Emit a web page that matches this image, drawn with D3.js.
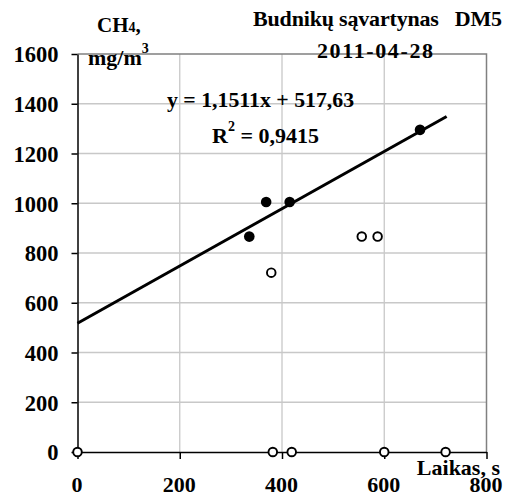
<!DOCTYPE html>
<html>
<head>
<meta charset="utf-8">
<script src="https://cdn.jsdelivr.net/npm/d3@7"></script>
<style>
  body { margin:0; background:#fff; }
  text { font-family:"Liberation Serif","Times New Roman",Times,serif; font-weight:bold; fill:#000; }
</style>
</head>
<body>
<div id="chart"></div>
<script>
// measured points used for the regression (filled)
var fitX = [336, 369, 415, 670];
var fitY = [866, 1005, 1005, 1295];
// other measurements (open circles)
var openX = [0, 379, 382, 419, 556, 587, 600, 720];
var openY = [0, 721, 0, 0, 866, 866, 0, 0];
var xTicks = [0, 200, 400, 600, 800];
var yTicks = [0, 200, 400, 600, 800, 1000, 1200, 1400, 1600];
var slope = 1.1511, intercept = 517.63, lineEnd = 722;

var margin = {top:54, right:19.5, bottom:44, left:77.5};
var W = 506, H = 496;
var w = W - margin.left - margin.right;
var h = H - margin.top - margin.bottom;

var scaleX = d3.scaleLinear().domain([0,800]).range([0,w]);
var scaleY = d3.scaleLinear().domain([0,1600]).range([h,0]);

var svg = d3.select("#chart").append("svg")
  .attr("width",W).attr("height",H)
  .append("g")
  .attr("transform","translate("+margin.left+","+margin.top+")");

// grid
svg.selectAll(".gx").data(xTicks.filter(function(d){return d>0 && d<800;}))
  .enter().append("line")
  .attr("x1",function(d){return scaleX(d);}).attr("x2",function(d){return scaleX(d);})
  .attr("y1",0).attr("y2",h)
  .style("stroke","#c8c8c8").style("stroke-width",1.3);
svg.selectAll(".gy").data(yTicks.filter(function(d){return d>0 && d<1600;}))
  .enter().append("line")
  .attr("x1",0).attr("x2",w)
  .attr("y1",function(d){return scaleY(d);}).attr("y2",function(d){return scaleY(d);})
  .style("stroke","#c8c8c8").style("stroke-width",1.3);

// frame top / right
svg.append("path")
  .attr("d","M0,"+scaleY(1600)+"H"+scaleX(800)+"V"+h)
  .style("fill","none").style("stroke","#808080").style("stroke-width",1.5);

// axes
var xAxis = d3.axisBottom(scaleX).tickValues(xTicks).tickSize(7).tickSizeOuter(0).tickFormat(d3.format("d"));
var yAxis = d3.axisLeft(scaleY).tickValues(yTicks).tickSize(6).tickSizeOuter(0).tickFormat(d3.format("d"));

var gx = svg.append("g").attr("transform","translate(0,"+h+")").call(xAxis);
var gy = svg.append("g").call(yAxis);
[gx,gy].forEach(function(g){
  g.attr("font-family",null).attr("font-size",null);
  g.select(".domain").style("stroke","#000").style("stroke-width",1.5);
  g.selectAll(".tick line").style("stroke","#000").style("stroke-width",1.5);
  g.selectAll("text").style("font-size","22.5px").attr("fill","#000");
});
gx.selectAll("text").style("font-size","22px").attr("y",39.5).attr("dy",null).attr("dx",-1);
gy.selectAll("text").attr("x",-19).attr("dy","0.35em");

// trend line
var line = d3.line().x(function(d){return scaleX(d);}).y(function(d){return scaleY(slope*d+intercept);});
svg.append("path").datum([0,lineEnd]).attr("d",line)
  .style("fill","none").style("stroke","#000").style("stroke-width",3);

// open markers
svg.selectAll(".open").data(openX).enter().append("circle")
  .attr("cx",function(d){return scaleX(d);})
  .attr("cy",function(d,i){return scaleY(openY[i]);})
  .attr("r",4.3)
  .style("fill","#fff").style("stroke","#000").style("stroke-width",1.9);

// filled markers
svg.selectAll(".fit").data(fitX).enter().append("circle")
  .attr("cx",function(d){return scaleX(d);})
  .attr("cy",function(d,i){return scaleY(fitY[i]);})
  .attr("r",5.3)
  .style("fill","#000");

// labels (page coordinates)
var root = d3.select("#chart svg");
var t1 = root.append("text").attr("x",97).attr("y",32).style("font-size","21px");
t1.append("tspan").text("CH");
t1.append("tspan").text("4").style("font-size","14px");
t1.append("tspan").text(",");

var t2 = root.append("text").attr("x",88).attr("y",65).style("font-size","22px");
t2.append("tspan").text("mg/m");
t2.append("tspan").text("3").attr("dy",-12).style("font-size","14px");

root.append("text").attr("x",253).attr("y",26).style("font-size","22px")
  .attr("textLength",249).attr("lengthAdjust","spacing")
  .style("white-space","pre").text("Budnikų sąvartynas   DM5");
root.append("text").attr("x",317).attr("y",58).style("font-size","22px")
  .attr("textLength",116).text("2011-04-28");

root.append("text").attr("x",167).attr("y",107).style("font-size","21.8px")
  .text("y = 1,1511x + 517,63");
var t3 = root.append("text").attr("x",212).attr("y",143).style("font-size","22px");
t3.append("tspan").text("R");
t3.append("tspan").text("2").attr("dy",-12).style("font-size","14px");
t3.append("tspan").text(" = 0,9415").attr("dy",12);

root.append("text").attr("x",500).attr("y",475).attr("text-anchor","end").style("font-size","22px")
  .text("Laikas, s");
</script>
</body>
</html>
